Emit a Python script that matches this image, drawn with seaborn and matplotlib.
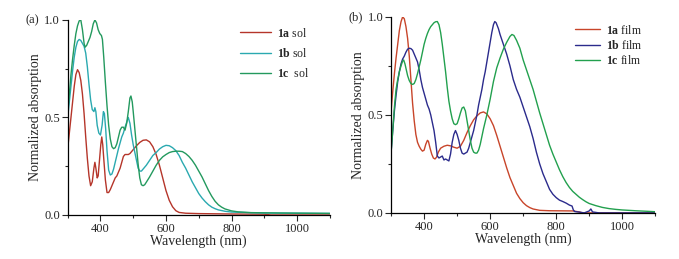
import numpy as np
import pandas as pd
import matplotlib
matplotlib.use('Agg')
import matplotlib.pyplot as plt
from matplotlib.ticker import MultipleLocator
import seaborn as sns

# ---- panel (a): solution spectra ----
a_sol_nm = [300, 305, 310, 315, 320, 325, 330, 335, 340, 345, 350, 355, 360, 365, 370, 375, 380, 383, 386,
            390, 393, 397, 401, 404, 407, 410, 415, 420, 425, 430, 435, 440, 445, 450, 455, 460, 465, 470,
            475, 480, 485, 490, 495, 500, 510, 520, 530, 540, 550, 560, 570, 580, 590, 600, 610, 620, 630,
            640, 660, 700, 800, 900, 920, 1100]
a_sol = [0.34, 0.42, 0.50, 0.58, 0.66, 0.72, 0.745, 0.73, 0.69, 0.62, 0.52, 0.40, 0.29, 0.20, 0.15, 0.17,
         0.24, 0.27, 0.24, 0.19, 0.20, 0.28, 0.36, 0.40, 0.36, 0.29, 0.18, 0.115, 0.115, 0.13, 0.15, 0.17,
         0.19, 0.20, 0.22, 0.24, 0.27, 0.30, 0.31, 0.31, 0.31, 0.315, 0.325, 0.335, 0.355, 0.372, 0.383,
         0.385, 0.375, 0.35, 0.31, 0.255, 0.19, 0.125, 0.075, 0.042, 0.022, 0.013, 0.009, 0.007, 0.005,
         0.004, 0.0, 0.0]

b_sol_nm = [300, 305, 310, 315, 320, 325, 330, 335, 340, 345, 350, 355, 360, 365, 370, 375, 380, 383, 386,
            390, 395, 400, 405, 409, 412, 416, 420, 425, 430, 435, 440, 445, 450, 455, 460, 465, 470, 475,
            480, 485, 490, 495, 500, 505, 510, 515, 520, 525, 530, 540, 550, 560, 570, 580, 590, 600, 610,
            620, 630, 640, 650, 660, 670, 680, 690, 700, 710, 720, 730, 740, 750, 760, 780, 800, 850, 900,
            1000, 1100]
b_sol = [0.50, 0.58, 0.66, 0.74, 0.81, 0.86, 0.89, 0.90, 0.895, 0.88, 0.865, 0.83, 0.76, 0.67, 0.59, 0.54,
         0.53, 0.55, 0.53, 0.46, 0.42, 0.41, 0.46, 0.53, 0.52, 0.44, 0.33, 0.23, 0.205, 0.21, 0.235, 0.27,
         0.305, 0.34, 0.37, 0.40, 0.42, 0.45, 0.475, 0.50, 0.47, 0.41, 0.36, 0.32, 0.28, 0.24, 0.225, 0.225,
         0.235, 0.255, 0.28, 0.305, 0.32, 0.338, 0.35, 0.357, 0.355, 0.345, 0.33, 0.305, 0.27, 0.24, 0.205,
         0.17, 0.14, 0.11, 0.087, 0.068, 0.052, 0.04, 0.032, 0.026, 0.019, 0.015, 0.012, 0.010, 0.009,
         0.008]

c_sol_nm = [300, 305, 310, 315, 320, 325, 330, 335, 340, 345, 350, 353, 358, 363, 368, 373, 378, 383, 388,
            393, 398, 403, 406, 410, 415, 420, 425, 430, 435, 440, 445, 450, 455, 460, 465, 470, 475, 480,
            485, 490, 493, 497, 500, 505, 510, 515, 520, 525, 530, 535, 540, 550, 560, 570, 580, 590, 600,
            610, 620, 630, 640, 650, 660, 670, 680, 690, 700, 710, 720, 730, 740, 750, 760, 770, 780, 800,
            820, 860, 900, 950, 1100]
c_sol = [0.52, 0.62, 0.72, 0.80, 0.87, 0.93, 0.97, 0.995, 1.0, 0.95, 0.88, 0.86, 0.87, 0.89, 0.91, 0.94,
         0.98, 1.0, 0.985, 0.95, 0.93, 0.92, 0.90, 0.81, 0.68, 0.56, 0.46, 0.39, 0.35, 0.34, 0.345, 0.365,
         0.40, 0.435, 0.45, 0.45, 0.435, 0.47, 0.53, 0.60, 0.61, 0.58, 0.53, 0.44, 0.35, 0.26, 0.19, 0.155,
         0.15, 0.155, 0.168, 0.195, 0.225, 0.255, 0.28, 0.298, 0.31, 0.32, 0.325, 0.327, 0.327, 0.325,
         0.315, 0.30, 0.28, 0.255, 0.225, 0.195, 0.16, 0.125, 0.095, 0.07, 0.052, 0.04, 0.031, 0.021,
         0.016, 0.012, 0.011, 0.010, 0.008]

# ---- panel (b): film spectra ----
a_film_nm = [300, 305, 310, 315, 320, 325, 330, 335, 340, 345, 350, 355, 360, 365, 370, 375, 380, 385, 390,
             395, 400, 405, 410, 413, 418, 423, 428, 433, 438, 443, 450, 460, 470, 480, 490, 500, 510, 520,
             530, 540, 550, 560, 570, 580, 590, 600, 610, 620, 630, 640, 650, 660, 670, 680, 690, 700, 710,
             720, 730, 750, 780, 850, 870, 880, 1100]
a_film = [0.52, 0.62, 0.71, 0.79, 0.86, 0.93, 0.975, 1.0, 0.99, 0.95, 0.89, 0.80, 0.68, 0.56, 0.47, 0.40,
          0.36, 0.34, 0.325, 0.315, 0.32, 0.35, 0.37, 0.365, 0.33, 0.30, 0.28, 0.275, 0.285, 0.31, 0.33,
          0.34, 0.345, 0.342, 0.335, 0.33, 0.34, 0.37, 0.41, 0.445, 0.475, 0.495, 0.51, 0.515, 0.505, 0.48,
          0.445, 0.395, 0.34, 0.285, 0.23, 0.18, 0.14, 0.10, 0.073, 0.052, 0.037, 0.027, 0.02, 0.013,
          0.011, 0.01, 0.005, 0.0, 0.0]

b_film_nm = [300, 305, 310, 315, 320, 325, 330, 335, 340, 345, 350, 355, 360, 365, 370, 375, 380, 385, 390,
             395, 400, 405, 410, 415, 420, 425, 430, 435, 440, 445, 450, 455, 460, 465, 470, 475, 480, 485,
             490, 495, 500, 505, 510, 515, 520, 525, 530, 535, 540, 545, 550, 555, 560, 565, 570, 575, 580,
             585, 590, 595, 600, 605, 610, 614, 618, 625, 630, 640, 650, 660, 670, 680, 690, 700, 710, 720,
             730, 740, 750, 760, 770, 780, 790, 800, 810, 820, 830, 840, 848, 852, 856, 870, 885, 900, 905,
             910, 930, 1100]
b_film = [0.31, 0.42, 0.52, 0.60, 0.67, 0.72, 0.76, 0.785, 0.80, 0.82, 0.835, 0.84, 0.838, 0.83, 0.81,
          0.79, 0.77, 0.73, 0.68, 0.64, 0.61, 0.58, 0.55, 0.53, 0.50, 0.46, 0.42, 0.36, 0.29, 0.28, 0.285,
          0.29, 0.27, 0.275, 0.27, 0.265, 0.30, 0.36, 0.40, 0.42, 0.40, 0.37, 0.33, 0.305, 0.30, 0.305, 0.31,
          0.33, 0.36, 0.39, 0.42, 0.46, 0.50, 0.55, 0.59, 0.63, 0.68, 0.72, 0.77, 0.82, 0.87, 0.92, 0.96,
          0.976, 0.97, 0.94, 0.91, 0.86, 0.81, 0.75, 0.68, 0.63, 0.59, 0.54, 0.49, 0.44, 0.38, 0.31, 0.25,
          0.20, 0.16, 0.12, 0.095, 0.078, 0.065, 0.058, 0.05, 0.04, 0.035, 0.015, 0.007, 0.004, 0.0, 0.01,
          0.02, 0.005, 0.0, 0.0]

c_film_nm = [300, 305, 310, 315, 320, 325, 330, 335, 338, 342, 346, 350, 355, 360, 365, 370, 375, 380, 385,
             390, 395, 400, 405, 410, 415, 420, 425, 430, 435, 440, 445, 450, 455, 460, 465, 470, 475, 480,
             485, 490, 495, 500, 505, 510, 515, 520, 525, 530, 535, 540, 545, 550, 555, 560, 565, 570, 575,
             580, 585, 590, 600, 610, 620, 630, 640, 650, 660, 666, 672, 680, 690, 700, 710, 720, 730, 740,
             750, 760, 770, 780, 790, 800, 810, 820, 830, 840, 850, 860, 870, 880, 890, 900, 920, 940, 960,
             980, 1000, 1040, 1078, 1100]
c_film = [0.31, 0.42, 0.54, 0.63, 0.68, 0.72, 0.75, 0.775, 0.78, 0.76, 0.73, 0.70, 0.675, 0.66, 0.655,
          0.66, 0.68, 0.71, 0.745, 0.78, 0.82, 0.86, 0.89, 0.915, 0.935, 0.95, 0.96, 0.97, 0.975, 0.976,
          0.96, 0.92, 0.86, 0.79, 0.72, 0.64, 0.57, 0.52, 0.48, 0.455, 0.45, 0.455, 0.48, 0.51, 0.535, 0.54,
          0.52, 0.47, 0.42, 0.37, 0.33, 0.31, 0.305, 0.305, 0.32, 0.35, 0.39, 0.43, 0.465, 0.50, 0.58, 0.67,
          0.74, 0.79, 0.835, 0.87, 0.90, 0.91, 0.905, 0.88, 0.84, 0.78, 0.73, 0.68, 0.63, 0.57, 0.51, 0.455,
          0.40, 0.345, 0.30, 0.26, 0.22, 0.185, 0.155, 0.13, 0.11, 0.095, 0.08, 0.068, 0.057, 0.048, 0.037,
          0.028, 0.022, 0.018, 0.015, 0.011, 0.008, 0.006]

sol_labels = [r'$\mathbf{1a}$ sol', r'$\mathbf{1b}$ sol', r'$\mathbf{1c}$  sol']
film_labels = [r'$\mathbf{1a}$ film', r'$\mathbf{1b}$ film', r'$\mathbf{1c}$ film']
sol_colors = ['#b5352a', '#2aa9b0', '#23995e']
film_colors = ['#c8452a', '#2b2b8c', '#22a04e']


def make_df(xs, ys, labels):
    rows = []
    for x, y, lab in zip(xs, ys, labels):
        rows.append(pd.DataFrame({'wl': x, 'abs': y, 'sample': lab}))
    return pd.concat(rows, ignore_index=True)


df_sol = make_df([a_sol_nm, b_sol_nm, c_sol_nm], [a_sol, b_sol, c_sol], sol_labels)
df_film = make_df([a_film_nm, b_film_nm, c_film_nm], [a_film, b_film, c_film], film_labels)

sns.set_style('ticks')
plt.rcParams['font.family'] = ['Liberation Serif', 'DejaVu Serif']
plt.rcParams['mathtext.fontset'] = 'custom'
plt.rcParams['mathtext.rm'] = 'Liberation Serif'
plt.rcParams['mathtext.bf'] = 'Liberation Serif:bold'

fig = plt.figure(figsize=(6.79, 2.59), dpi=100)
ax1 = fig.add_axes([0.0997, 0.170, 0.386, 0.753])
ax2 = fig.add_axes([0.576, 0.178, 0.389, 0.757])

panels = [(ax1, df_sol, sol_labels, sol_colors, '(a)', 0.64, 2.6, 0.6),
          (ax2, df_film, film_labels, film_colors, '(b)', 0.68, 2.1, 0.2)]

for ax, df, labels, colors, tag, lx, hl, ls in panels:
    sns.lineplot(data=df, x='wl', y='abs', hue='sample', hue_order=labels,
                 palette=colors, sort=False, estimator=None, linewidth=1.0, ax=ax)
    ax.set_xlim(300, 1100)
    ax.set_ylim(0, 1.0)
    ax.set_xticks([400, 600, 800, 1000])
    ax.xaxis.set_minor_locator(MultipleLocator(100))
    ax.set_yticks([0.0, 0.5, 1.0])
    ax.set_yticklabels(['0.0', '0.5', '1.0'])
    ax.yaxis.set_minor_locator(MultipleLocator(0.25))
    ax.tick_params(which='major', length=4, width=0.8, labelsize=9, direction='out', pad=1.5)
    ax.tick_params(which='minor', length=2.5, width=0.8, direction='out')
    for s in ['top', 'right']:
        ax.spines[s].set_visible(False)
    for s in ['left', 'bottom']:
        ax.spines[s].set_linewidth(0.9)
        ax.spines[s].set_color('black')
    ax.set_xlabel('Wavelength (nm)', fontsize=10, labelpad=0)
    ax.set_ylabel('Normalized absorption', fontsize=10, labelpad=2)
    ax.legend(loc='upper left', bbox_to_anchor=(lx, 0.99), frameon=False, fontsize=8.5,
              handlelength=hl, handletextpad=0.5, labelspacing=ls, borderaxespad=0)
    ax.text(-0.16, 1.0, tag, transform=ax.transAxes, fontsize=9, ha='left', va='center')

plt.savefig('out.png', dpi=100)
